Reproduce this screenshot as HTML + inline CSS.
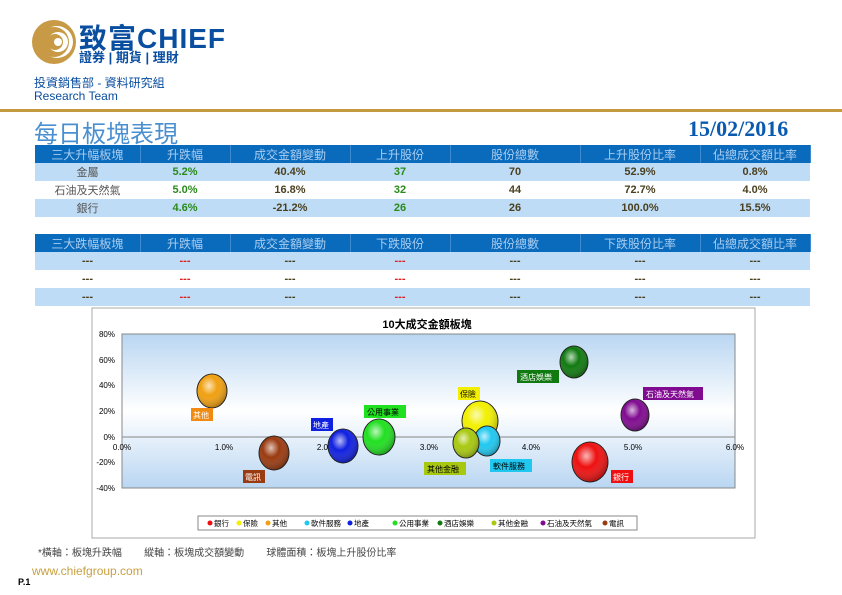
<!DOCTYPE html>
<html><head><meta charset="utf-8"><style>
*{margin:0;padding:0;box-sizing:border-box}
body{width:842px;height:595px;background:#fff;position:relative;overflow:hidden;font-family:"Liberation Sans","Noto Sans CJK TC",sans-serif}
.a{position:absolute}
table{position:absolute;left:35px;width:775px;border-collapse:collapse;table-layout:fixed}
td{height:18px;text-align:center;font-size:11px;font-weight:bold;color:#4a4020;padding:0}
tr.h td{background:#0a6bbd;color:#a9cdf0;font-weight:normal;font-size:12px;border-right:1px solid #3d8ad0}
tr.b td{background:#bfdcf6}
td.g{color:#2a8a1a}td.r{color:#e02020}td.n{font-weight:normal;color:#555}
</style></head><body>
<svg class="a" style="left:30px;top:18px" width="48" height="48" viewBox="0 0 48 48">
<circle cx="24" cy="24" r="22" fill="#c89a45"/><circle cx="27" cy="24" r="16" fill="#fff"/><circle cx="24" cy="24" r="15" fill="#c89a45"/><circle cx="28" cy="24" r="10" fill="#fff"/><circle cx="25" cy="24" r="8" fill="#c89a45"/><circle cx="28" cy="24" r="4" fill="#fff"/></svg>
<div class="a" style="left:79px;top:17px;font-size:28px;font-weight:bold;color:#0a4ea0;letter-spacing:1px">致富CHIEF</div>
<div class="a" style="left:79px;top:47px;font-size:13px;font-weight:bold;color:#0a4ea0">證券 | 期貨 | 理財</div>
<div class="a" style="left:34px;top:74px;font-size:12px;color:#0a4ea0">投資銷售部 - 資料研究組</div>
<div class="a" style="left:34px;top:89px;font-size:12px;color:#0a4ea0">Research Team</div>
<div class="a" style="left:0;top:109px;width:842px;height:3px;background:#c49a40"></div>
<div class="a" style="left:34px;top:114px;font-size:24px;color:#4a8fd0">每日板塊表現</div>
<div class="a" style="left:688px;top:116px;font-size:22px;font-weight:bold;color:#0a5ab0;font-family:'Liberation Serif',serif">15/02/2016</div>
<table style="top:145px"><colgroup><col style="width:105px"><col style="width:90px"><col style="width:120px"><col style="width:100px"><col style="width:130px"><col style="width:120px"><col style="width:110px"></colgroup>
<tr class="h"><td>三大升幅板塊</td><td>升跌幅</td><td>成交金額變動</td><td>上升股份</td><td>股份總數</td><td>上升股份比率</td><td>佔總成交額比率</td></tr>
<tr class="b"><td class="n">金屬</td><td class="g">5.2%</td><td>40.4%</td><td class="g">37</td><td>70</td><td>52.9%</td><td>0.8%</td></tr>
<tr><td class="n">石油及天然氣</td><td class="g">5.0%</td><td>16.8%</td><td class="g">32</td><td>44</td><td>72.7%</td><td>4.0%</td></tr>
<tr class="b"><td class="n">銀行</td><td class="g">4.6%</td><td>-21.2%</td><td class="g">26</td><td>26</td><td>100.0%</td><td>15.5%</td></tr></table>
<table style="top:234px"><colgroup><col style="width:105px"><col style="width:90px"><col style="width:120px"><col style="width:100px"><col style="width:130px"><col style="width:120px"><col style="width:110px"></colgroup>
<tr class="h"><td>三大跌幅板塊</td><td>升跌幅</td><td>成交金額變動</td><td>下跌股份</td><td>股份總數</td><td>下跌股份比率</td><td>佔總成交額比率</td></tr>
<tr class="b"><td>---</td><td class="r">---</td><td>---</td><td class="r">---</td><td>---</td><td>---</td><td>---</td></tr>
<tr><td>---</td><td class="r">---</td><td>---</td><td class="r">---</td><td>---</td><td>---</td><td>---</td></tr>
<tr class="b"><td>---</td><td class="r">---</td><td>---</td><td class="r">---</td><td>---</td><td>---</td><td>---</td></tr></table>
<svg class="a" style="left:0;top:0" width="842" height="595" font-family="Liberation Sans,Noto Sans CJK TC,sans-serif">
<defs><linearGradient id="pg" x1="0" y1="0" x2="0" y2="1"><stop offset="0" stop-color="#b9d6f2"/><stop offset="0.5" stop-color="#fff"/><stop offset="1" stop-color="#b9d6f2"/></linearGradient>
<radialGradient id="sh" cx="0.4" cy="0.35" r="0.7"><stop offset="0" stop-color="#fff" stop-opacity="0.7"/><stop offset="0.4" stop-color="#fff" stop-opacity="0"/><stop offset="1" stop-color="#000" stop-opacity="0.35"/></radialGradient></defs>
<rect x="92" y="308" width="663" height="230" fill="#fff" stroke="#aaa"/>
<rect x="122" y="334" width="613" height="154" fill="url(#pg)" stroke="#888"/>
<line x1="122" y1="437" x2="735" y2="437" stroke="#888"/>
<text x="427" y="328" font-size="11" font-weight="bold" text-anchor="middle">10大成交金額板塊</text>
<g font-size="8" text-anchor="end"><text x="115" y="337">80%</text><text x="115" y="363">60%</text><text x="115" y="388">40%</text><text x="115" y="414">20%</text><text x="115" y="440">0%</text><text x="115" y="465">-20%</text><text x="115" y="491">-40%</text></g>
<g font-size="8" text-anchor="middle"><text x="122" y="450">0.0%</text><text x="224" y="450">1.0%</text><text x="326" y="450">2.0%</text><text x="429" y="450">3.0%</text><text x="531" y="450">4.0%</text><text x="633" y="450">5.0%</text><text x="735" y="450">6.0%</text></g>
<g stroke="#222" stroke-width="0.8">
<ellipse cx="590" cy="462" rx="18" ry="20" fill="#ee1010"/><ellipse cx="590" cy="462" rx="18" ry="20" fill="url(#sh)"/>
<ellipse cx="480" cy="421" rx="18" ry="20" fill="#f2f000"/><ellipse cx="480" cy="421" rx="18" ry="20" fill="url(#sh)"/>
<ellipse cx="212" cy="391" rx="15" ry="17" fill="#f0a010"/><ellipse cx="212" cy="391" rx="15" ry="17" fill="url(#sh)"/>
<ellipse cx="487" cy="441" rx="13" ry="15" fill="#20c8f0"/><ellipse cx="487" cy="441" rx="13" ry="15" fill="url(#sh)"/>
<ellipse cx="343" cy="446" rx="15" ry="17" fill="#1020e0"/><ellipse cx="343" cy="446" rx="15" ry="17" fill="url(#sh)"/>
<ellipse cx="379" cy="437" rx="16" ry="18" fill="#20e020"/><ellipse cx="379" cy="437" rx="16" ry="18" fill="url(#sh)"/>
<ellipse cx="574" cy="362" rx="14" ry="16" fill="#107a10"/><ellipse cx="574" cy="362" rx="14" ry="16" fill="url(#sh)"/>
<ellipse cx="466" cy="443" rx="13" ry="15" fill="#a8c810"/><ellipse cx="466" cy="443" rx="13" ry="15" fill="url(#sh)"/>
<ellipse cx="635" cy="415" rx="14" ry="16" fill="#800a90"/><ellipse cx="635" cy="415" rx="14" ry="16" fill="url(#sh)"/>
<ellipse cx="274" cy="453" rx="15" ry="17" fill="#9a3a10"/><ellipse cx="274" cy="453" rx="15" ry="17" fill="url(#sh)"/>
</g>
<g font-size="8">
<rect x="191" y="408" width="22" height="13" fill="#f08a10"/><text x="193" y="418" fill="#fff">其他</text>
<rect x="243" y="470" width="22" height="13" fill="#9a3a10"/><text x="245" y="480" fill="#fff">電訊</text>
<rect x="311" y="418" width="22" height="13" fill="#1020e0"/><text x="313" y="428" fill="#fff">地產</text>
<rect x="364" y="405" width="42" height="13" fill="#20e020"/><text x="367" y="415" fill="#000">公用事業</text>
<rect x="458" y="387" width="22" height="13" fill="#f2f000"/><text x="460" y="397" fill="#000">保險</text>
<rect x="517" y="370" width="42" height="13" fill="#107a10"/><text x="520" y="380" fill="#fff">酒店娛樂</text>
<rect x="643" y="387" width="60" height="13" fill="#800a90"/><text x="646" y="397" fill="#fff">石油及天然氣</text>
<rect x="424" y="462" width="42" height="13" fill="#a8c810"/><text x="427" y="472" fill="#000">其他金融</text>
<rect x="490" y="459" width="42" height="13" fill="#20c8f0"/><text x="493" y="469" fill="#000">軟件服務</text>
<rect x="611" y="470" width="22" height="13" fill="#ee1010"/><text x="613" y="480" fill="#fff">銀行</text>
</g>
<rect x="198" y="516" width="439" height="14" fill="#fff" stroke="#888"/>
<g font-size="7.5">
<circle cx="210" cy="523" r="2.5" fill="#ee1010"/><text x="214" y="526">銀行</text>
<circle cx="239" cy="523" r="2.5" fill="#f2f000"/><text x="243" y="526">保險</text>
<circle cx="268" cy="523" r="2.5" fill="#f0a010"/><text x="272" y="526">其他</text>
<circle cx="307" cy="523" r="2.5" fill="#20c8f0"/><text x="311" y="526">軟件服務</text>
<circle cx="350" cy="523" r="2.5" fill="#1020e0"/><text x="354" y="526">地產</text>
<circle cx="395" cy="523" r="2.5" fill="#20e020"/><text x="399" y="526">公用事業</text>
<circle cx="440" cy="523" r="2.5" fill="#107a10"/><text x="444" y="526">酒店娛樂</text>
<circle cx="494" cy="523" r="2.5" fill="#a8c810"/><text x="498" y="526">其他金融</text>
<circle cx="543" cy="523" r="2.5" fill="#800a90"/><text x="547" y="526">石油及天然氣</text>
<circle cx="605" cy="523" r="2.5" fill="#9a3a10"/><text x="609" y="526">電訊</text>
</g>
</svg>
<div class="a" style="left:38px;top:544px;font-size:10px;color:#444;white-space:pre">*橫軸：板塊升跌幅        縱軸：板塊成交額變動        球體面積：板塊上升股份比率</div>
<div class="a" style="left:32px;top:564px;font-size:12px;color:#c8a040">www.chiefgroup.com</div>
<div class="a" style="left:18px;top:577px;font-size:9px;font-weight:bold;color:#000">P.1</div>
</body></html>
